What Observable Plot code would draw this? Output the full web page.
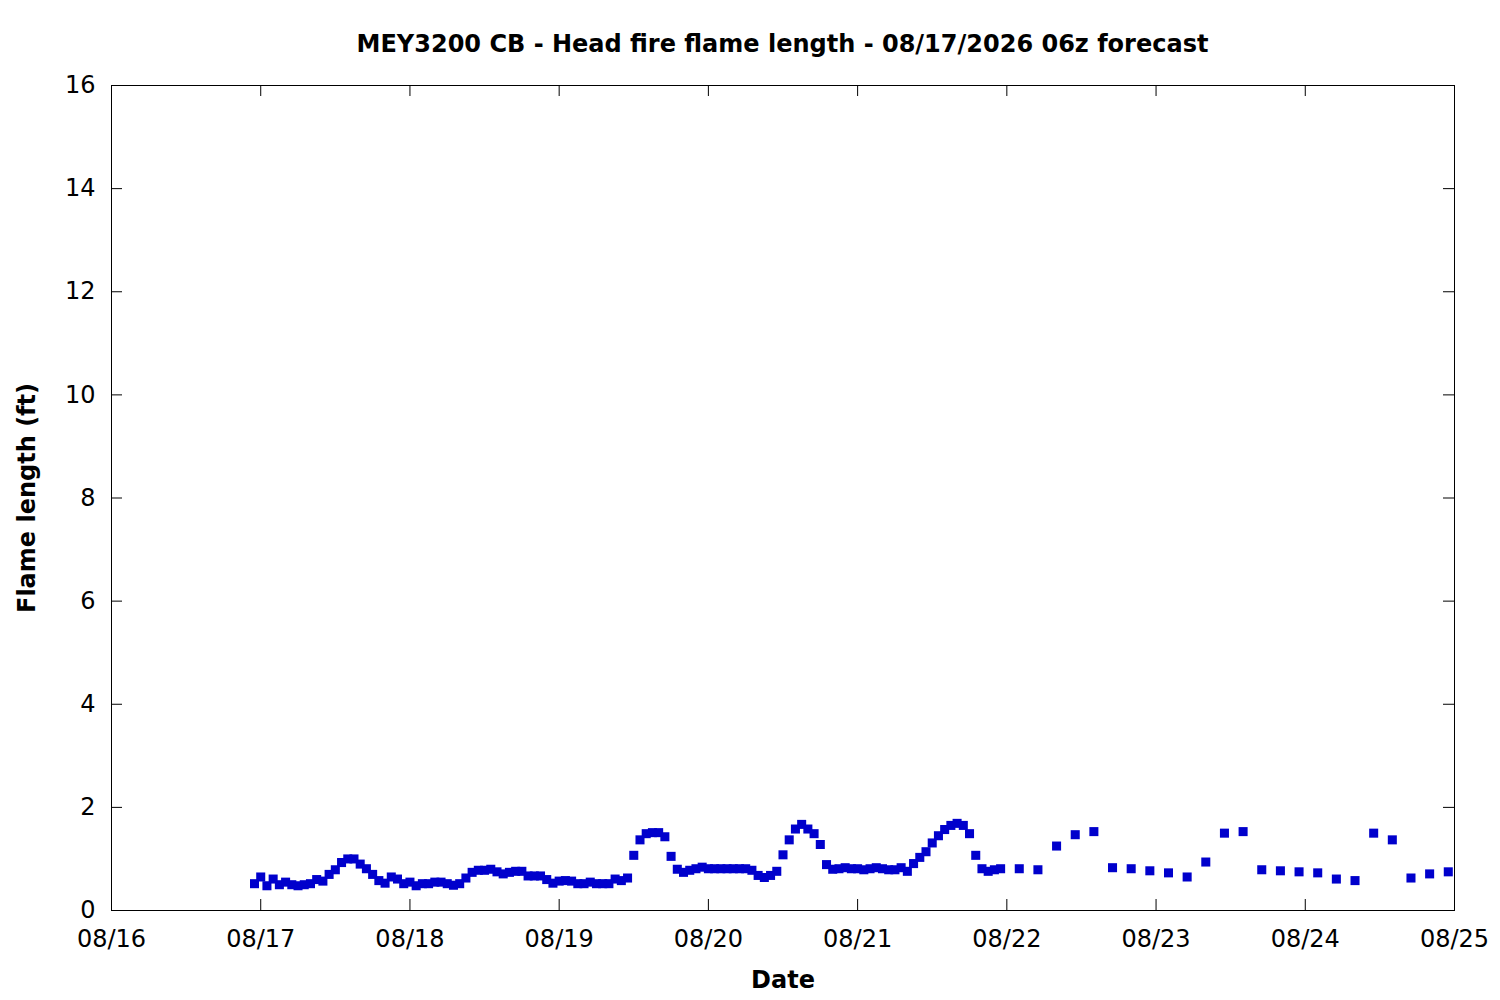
<!DOCTYPE html>
<html>
<head>
<meta charset="utf-8">
<script src="https://cdn.jsdelivr.net/npm/d3@7"></script>
<script src="https://cdn.jsdelivr.net/npm/@observablehq/plot@0.6"></script>
<style>
  body { margin: 0; background: #fff; font-family: "DejaVu Sans", sans-serif; }
  #title { height: 60px; box-sizing: border-box; padding-top: 30px; margin-left: 111px; width: 1343px;
           text-align: center; font-weight: bold; font-size: 24px; line-height: 28px; color: #000; white-space: nowrap; }
  #chart svg { display: block; }
</style>
</head>
<body>
<div id="title"></div>
<div id="chart"></div>
<script>
const titleText = "MEY3200 CB - Head fire flame length - 08/17/2026 06z forecast";
const xLabel = "Date";
const yLabel = "Flame length (ft)";

// Hourly forecast, first value at 08/16 23:00
const hourlyStart = "2026-08-16T23:00:00Z";
const hourlyValues = [
  0.52, 0.65, 0.48, 0.61, 0.50, 0.55, 0.50, 0.48, 0.50, 0.52,
  0.60, 0.57, 0.70, 0.79, 0.93, 1.00, 1.00, 0.90, 0.81, 0.70,
  0.58, 0.53, 0.65, 0.61, 0.52, 0.55, 0.48, 0.52, 0.52, 0.55,
  0.55, 0.52, 0.49, 0.52, 0.63, 0.74, 0.78, 0.78, 0.80, 0.75,
  0.71, 0.74, 0.76, 0.76, 0.67, 0.67, 0.67, 0.60, 0.53, 0.57,
  0.58, 0.57, 0.52, 0.52, 0.55, 0.52, 0.52, 0.52, 0.61, 0.58,
  0.63, 1.07, 1.37, 1.49, 1.51, 1.51, 1.43, 1.05, 0.80, 0.74,
  0.78, 0.81, 0.84, 0.81, 0.81, 0.81, 0.81, 0.81, 0.81, 0.81,
  0.78, 0.68, 0.64, 0.68, 0.76, 1.08, 1.37, 1.58, 1.67, 1.58,
  1.49, 1.28, 0.89, 0.80, 0.81, 0.83, 0.81, 0.81, 0.79, 0.81,
  0.83, 0.81, 0.79, 0.79, 0.83, 0.76, 0.91, 1.03, 1.14, 1.31,
  1.45, 1.57, 1.65, 1.69, 1.65, 1.49, 1.07, 0.81, 0.76, 0.79,
  0.81
];

// 3-hourly forecast, first value at 08/22 02:00
const threeHourlyStart = "2026-08-22T02:00:00Z";
const threeHourlyValues = [
  0.81, 0.79, 1.25, 1.47, 1.53, 0.83, 0.81, 0.77, 0.73, 0.65,
  0.94, 1.50, 1.53, 0.79, 0.77, 0.75, 0.73, 0.61, 0.58, 1.50,
  1.37, 0.63, 0.71, 0.75
];

const xTickDates = ["2026-08-16", "2026-08-17", "2026-08-18", "2026-08-19", "2026-08-20",
                    "2026-08-21", "2026-08-22", "2026-08-23", "2026-08-24", "2026-08-25"];
const yTicks = [0, 2, 4, 6, 8, 10, 12, 14, 16];

document.getElementById("title").textContent = titleText;

const hStart = new Date(hourlyStart);
const tStart = new Date(threeHourlyStart);
const points = [
  ...hourlyValues.map((v, i) => ({time: d3.utcHour.offset(hStart, i), value: v})),
  ...threeHourlyValues.map((v, i) => ({time: d3.utcHour.offset(tStart, 3 * i), value: v}))
];
const xTicks = xTickDates.map(s => new Date(s + "T00:00:00Z"));

const W = 1500, H = 940;
const mL = 111, mR = 46, mT = 25, mB = 90;
const frameW = W - mL - mR, frameH = H - mT - mB;
const tickLen = 11;
const FS = 24;

const chart = Plot.plot({
  width: W,
  height: H,
  marginLeft: mL,
  marginRight: mR,
  marginTop: mT,
  marginBottom: mB,
  style: {fontFamily: "DejaVu Sans, sans-serif", fontSize: FS + "px", background: "white", color: "black"},
  x: {type: "utc", domain: [xTicks[0], xTicks[xTicks.length - 1]]},
  y: {domain: [0, 16]},
  marks: [
    Plot.frame({stroke: "black", strokeWidth: 1}),
    // inward ticks, mirrored on all four sides
    Plot.tickX(xTicks, {x: d => d, insetTop: frameH - tickLen, stroke: "black"}),
    Plot.tickX(xTicks, {x: d => d, insetBottom: frameH - tickLen, stroke: "black"}),
    Plot.tickY(yTicks, {y: d => d, insetRight: frameW - tickLen, stroke: "black"}),
    Plot.tickY(yTicks, {y: d => d, insetLeft: frameW - tickLen, stroke: "black"}),
    Plot.axisX(xTicks, {tickSize: 0, tickPadding: 19, tickFormat: d3.utcFormat("%m/%d"), fontSize: FS, label: null}),
    Plot.axisY(yTicks, {tickSize: 0, tickPadding: 16, tickFormat: d => String(d), fontSize: FS, label: null}),
    Plot.dot(points, {x: "time", y: "value", symbol: "square", r: 5.1, fill: "#0000cc", stroke: "none"}),
    Plot.text([yLabel], {text: d => d, frameAnchor: "left", dx: -84, rotate: -90, textAnchor: "middle", lineAnchor: "middle", fontWeight: "bold", fontSize: FS}),
    Plot.text([xLabel], {text: d => d, frameAnchor: "bottom", dy: 70, textAnchor: "middle", lineAnchor: "middle", fontWeight: "bold", fontSize: FS})
  ]
});
document.getElementById("chart").appendChild(chart);
</script>
</body>
</html>
